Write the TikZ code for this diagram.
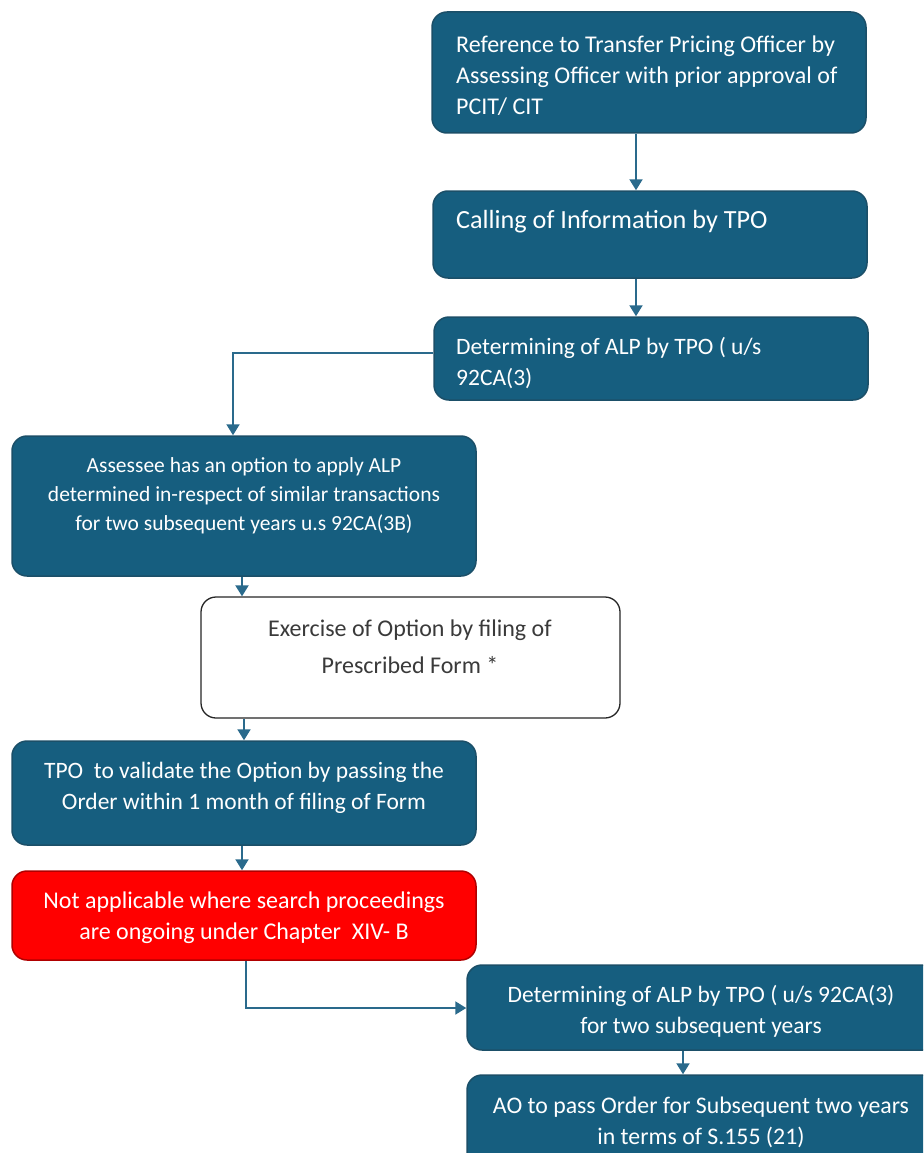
\documentclass[tikz,border=0pt]{standalone}
\usepackage{fontspec}
\setmainfont{Carlito}
\usetikzlibrary{arrows.meta}
\definecolor{teal}{HTML}{165E7F}
\definecolor{tealdark}{HTML}{1B4F68}
\definecolor{arrowc}{HTML}{2A6A8C}
\definecolor{redbox}{HTML}{FF0000}
\definecolor{reddark}{HTML}{B00000}
\definecolor{greytext}{HTML}{3A3A3A}
\tikzset{
  stepbox/.style={draw=tealdark, line width=1.5pt, fill=teal, rounded corners=15pt, inner sep=0pt},
  whitebox/.style={draw=black!85, line width=1.3pt, fill=white, rounded corners=15pt, inner sep=0pt},
  redstep/.style={draw=reddark, line width=1.5pt, fill=redbox, rounded corners=15pt, inner sep=0pt},
  wtxt/.style={text=white, font=\fontsize{23.5}{31}\selectfont, inner sep=0pt},
  conn/.style={draw=arrowc, line width=2pt, -{Triangle[width=13pt,length=11pt]}},
}
\begin{document}
\begin{tikzpicture}[x=1pt,y=-1pt]
\useasboundingbox (0,0) rectangle (923,1153);
\clip (0,0) rectangle (923,1153);
% boxes
\node[stepbox, minimum width=434pt, minimum height=121pt] (b1) at (649,72.5) {};
\node[stepbox, minimum width=434pt, minimum height=87pt] (b2) at (650,234.5) {};
\node[stepbox, minimum width=434pt, minimum height=83pt] (b3) at (651,358.5) {};
\node[stepbox, minimum width=464pt, minimum height=140pt] (b4) at (244,506) {};
\node[whitebox, minimum width=419pt, minimum height=121pt] (b5) at (410.5,657.5) {};
\node[stepbox, minimum width=464pt, minimum height=104pt] (b6) at (244,793) {};
\node[redstep, minimum width=464pt, minimum height=89pt] (b7) at (244,915.5) {};
\node[stepbox, minimum width=480pt, minimum height=85pt] (b8) at (707,1007.5) {};
\node[stepbox, minimum width=480pt, minimum height=100pt] (b9) at (707,1125) {};
% texts
\node[wtxt, anchor=west, align=left, font=\fontsize{24}{31}\selectfont] (t1) at (456,76) {Reference to Transfer Pricing Officer by\\Assessing Officer with prior approval of\\PCIT/ CIT};
\node[wtxt, anchor=west, font=\fontsize{26.2}{31}\selectfont] (t2) at (456,222) {Calling of Information by TPO};
\node[wtxt, anchor=west, align=left] (t3) at (456,363) {Determining of ALP by TPO ( u/s\\92CA(3)};
\node[wtxt, align=center, font=\fontsize{21.5}{29}\selectfont] (t4) at (244,496) {Assessee has an option to apply ALP\\determined in-respect of similar transactions\\for two subsequent years u.s 92CA(3B)};
\node[wtxt, align=center, text=greytext, font=\fontsize{24}{37}\selectfont] (t5) at (410,647) {Exercise of Option by filing of\\Prescribed Form *};
\node[wtxt, align=center] (t6) at (244,788) {TPO\ \ to validate the Option by passing the\\Order within 1 month of filing of Form};
\node[wtxt, align=center, font=\fontsize{24}{31}\selectfont] (t7) at (244,918) {Not applicable where search proceedings\\are ongoing under Chapter\ \ XIV- B};
\node[wtxt, align=center] (t8) at (701,1011) {Determining of ALP by TPO ( u/s 92CA(3)\\for two subsequent years};
\node[wtxt, align=center, font=\fontsize{23.8}{31}\selectfont] (t9) at (701,1122) {AO to pass Order for Subsequent two years\\in terms of S.155 (21)};
% connectors
\draw[conn] (b1.south -| 636,0) -- (b2.north -| 636,0);
\draw[conn] (b2.south -| 636,0) -- (b3.north -| 636,0);
\draw[conn] (b3.west |- 0,353) -| (b4.north -| 233,0);
\draw[conn] (b4.south -| 242,0) -- (b5.north -| 242,0);
\draw[conn] (b5.south -| 244,0) -- (b6.north -| 244,0);
\draw[conn] (b6.south -| 242,0) -- (b7.north -| 242,0);
\draw[conn] (b7.south -| 246,0) |- (b8.west |- 0,1008);
\draw[conn] (b8.south -| 683,0) -- (b9.north -| 683,0);
\end{tikzpicture}
\end{document}
